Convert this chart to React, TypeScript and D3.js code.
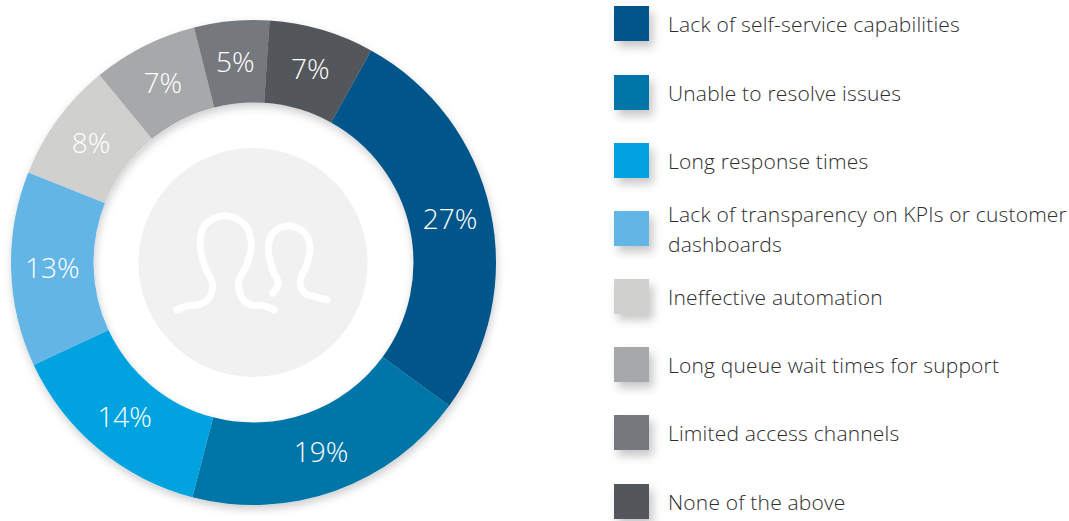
import React from "react";
import * as d3 from "d3";

const categories = [
  "Lack of self-service capabilities",
  "Unable to resolve issues",
  "Long response times",
  "Lack of transparency on KPIs or customer dashboards",
  "Ineffective automation",
  "Long queue wait times for support",
  "Limited access channels",
  "None of the above",
];
const values = [27, 19, 14, 13, 8, 7, 5, 7];
const colors = ["#00558a", "#0075a8", "#00a3e0", "#62b5e5", "#d0d0ce", "#a7a8aa", "#75787b", "#53565a"];
const legendLines = [
  ["Lack of self-service capabilities"],
  ["Unable to resolve issues"],
  ["Long response times"],
  ["Lack of transparency on KPIs or customer", "dashboards"],
  ["Ineffective automation"],
  ["Long queue wait times for support"],
  ["Limited access channels"],
  ["None of the above"],
];
const iconBig: [number, number][] = [[140,480],[170,468],[205,464],[232,450],[248,405],[225,350],[210,285],[225,225],[285,197],[345,225],[364,285],[350,345],[325,400],[340,450],[365,465],[400,467],[432,480]];
const iconSmall: [number, number][] = [[428,430],[445,400],[430,365],[415,300],[428,250],[477,227],[525,250],[540,295],[530,345],[510,395],[525,430],[555,440],[592,450]];

const W = 1069, H = 521;
const cx = 253.5, cy = 262.5, R = 242.5, r = 160;
const FONT = "'Open Sans', sans-serif";
const legendTops = [6, 75, 143, 211, 279, 347, 415, 484];

export default function App() {
  const start = (29 * Math.PI) / 180;
  const pie = d3.pie<number>().sort(null).startAngle(start).endAngle(start + 2 * Math.PI);
  const arc = d3.arc<d3.PieArcDatum<number>>().innerRadius(r).outerRadius(R);
  const arcs = pie(values);

  const iconX = d3.scaleLinear().domain([0, 3]).range([130, 131]);
  const iconY = d3.scaleLinear().domain([0, 3]).range([150, 151]);
  const iconLine = d3.line<[number, number]>().x(d => iconX(d[0])).y(d => iconY(d[1])).curve(d3.curveCatmullRom.alpha(0.5));

  return (
    <svg width={W} height={H} viewBox={`0 0 ${W} ${H}`} style={{ position: "absolute", left: 0, top: 0, background: "#fff" }}>
      <defs>
        <filter id="softShadow" x="-40%" y="-40%" width="180%" height="180%">
          <feDropShadow dx="4" dy="6" stdDeviation="5" floodColor="#000" floodOpacity="0.22" />
        </filter>
        <filter id="ringShadow" x="-10%" y="-10%" width="120%" height="120%">
          <feDropShadow dx="1" dy="4" stdDeviation="4" floodColor="#000" floodOpacity="0.2" />
        </filter>
      </defs>
      <g transform={`translate(${cx},${cy})`}>
        <g filter="url(#ringShadow)">
          {arcs.map((a, i) => (
            <path key={i} d={arc(a) || ""} fill={colors[i]} />
          ))}
        </g>
        <circle r={114.5} cx={-0.5} fill="#f1f1f1" />
      </g>
      <path d={iconLine(iconBig) || ""} fill="none" stroke="#fff" strokeWidth={7} strokeLinecap="round" strokeLinejoin="round" />
      <path d={iconLine(iconSmall) || ""} fill="none" stroke="#fff" strokeWidth={7} strokeLinecap="round" strokeLinejoin="round" />
      <g transform={`translate(${cx},${cy})`}>
        {arcs.map((a, i) => {
          const [x, y] = arc.centroid(a);
          return (
            <text key={i} x={x} y={y} dy="0.35em" textAnchor="middle" fontFamily={FONT} fontWeight={300} fontSize={28} fill="#fff">
              {values[i]}%
            </text>
          );
        })}
      </g>
      {categories.map((c, i) => {
        const top = legendTops[i];
        const lines = legendLines[i];
        const mid = top + 17.5;
        return (
          <g key={c}>
            <rect x={614} y={top} width={35} height={35} fill={colors[i]} filter="url(#softShadow)" />
            {lines.map((l, j) => (
              <text key={j} x={668} y={mid + 1 + (j - (lines.length - 1) / 2) * 29.5} dy="0.35em" fontFamily={FONT} fontWeight={300} fontSize={21} letterSpacing={0.18} fill="#2e2e2e">
                {l}
              </text>
            ))}
          </g>
        );
      })}
    </svg>
  );
}
